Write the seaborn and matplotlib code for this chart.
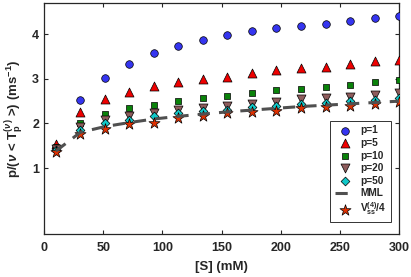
import pandas as pd
import matplotlib
matplotlib.use('Agg')
import matplotlib.pyplot as plt
import seaborn as sns

S = [10, 30.7, 51.4, 72.1, 92.9, 113.6, 134.3, 155, 175.7, 196.4, 217.1, 237.9, 258.6, 279.3, 300]

p1 = [1.46, 2.52, 3.02, 3.34, 3.57, 3.74, 3.87, 3.98, 4.07, 4.15, 4.19, 4.24, 4.30, 4.36, 4.41]
p5 = [1.53, 2.25, 2.54, 2.71, 2.83, 2.92, 2.99, 3.05, 3.14, 3.20, 3.24, 3.27, 3.33, 3.39, 3.43]
p10 = [1.47, 2.00, 2.21, 2.34, 2.42, 2.51, 2.57, 2.62, 2.68, 2.74, 2.78, 2.82, 2.87, 2.92, 2.97]
p20 = [1.43, 1.91, 2.07, 2.16, 2.24, 2.30, 2.35, 2.39, 2.44, 2.48, 2.54, 2.57, 2.60, 2.63, 2.69]
p50 = [1.41, 1.85, 2.00, 2.08, 2.16, 2.23, 2.27, 2.31, 2.36, 2.40, 2.44, 2.47, 2.50, 2.53, 2.57]
mml = [1.38, 1.80, 1.93, 2.02, 2.10, 2.16, 2.21, 2.26, 2.30, 2.34, 2.38, 2.41, 2.44, 2.47, 2.50]
vss = [1.36, 1.76, 1.87, 1.99, 2.01, 2.13, 2.17, 2.24, 2.25, 2.28, 2.34, 2.37, 2.39, 2.44, 2.48]

sns.set_style('ticks')
plt.rcParams['font.family'] = ['Liberation Sans', 'DejaVu Sans']
plt.rcParams['font.weight'] = 'bold'
plt.rcParams['mathtext.fontset'] = 'custom'
plt.rcParams['mathtext.rm'] = 'Liberation Sans:bold'
plt.rcParams['mathtext.it'] = 'Liberation Sans:italic:bold'
plt.rcParams['mathtext.bf'] = 'Liberation Sans:bold'

f, ax = plt.subplots()
f.set_size_inches(4.11, 2.77)
f.subplots_adjust(left=0.107, right=0.971, bottom=0.155, top=0.989)

df = pd.DataFrame({'S': S, 'p1': p1, 'p5': p5, 'p10': p10, 'p20': p20,
                   'p50': p50, 'mml': mml, 'vss': vss})

kw = dict(edgecolor='black', linewidth=0.5, ax=ax, zorder=3)
sns.scatterplot(data=df, x='S', y='p1', marker='o', color='#3535f0', s=30, label='p=1', **kw)
sns.scatterplot(data=df, x='S', y='p5', marker='^', color='#ee0000', s=42, label='p=5', **kw)
sns.scatterplot(data=df, x='S', y='p10', marker='s', color='#0a820a', s=20, label='p=10', **kw)
sns.scatterplot(data=df, x='S', y='p20', marker='v', color='#8e5c5c', s=42, label='p=20', **kw)
sns.scatterplot(data=df, x='S', y='p50', marker='D', color='#10c8c8', s=20, label='p=50', **kw)
sns.lineplot(data=df, x='S', y='mml', color='#505050', linewidth=2.2, dashes=False,
             linestyle=(0, (4, 3)), label='MML', ax=ax, zorder=4)
sns.scatterplot(data=df, x='S', y='vss', marker='*', color='#e03000', s=70,
                label=r'V$_{\rm ss}^{(4)}$/4', **kw)

ax.set_xlim(0, 300)
ax.set_ylim(-0.48, 4.7)
ax.set_xticks([0, 50, 100, 150, 200, 250, 300])
ax.set_yticks([1, 2, 3, 4])
ax.tick_params(direction='in', top=True, right=True, labelsize=9, length=3, width=0.8)
ax.tick_params(axis='x', pad=6)
for sp in ax.spines.values():
    sp.set_linewidth(0.9)
ax.set_xlabel('[S] (mM)', fontsize=9.5, fontweight='bold', labelpad=5)
ax.set_ylabel(r'p/($\nu$ < T$_{\rm p}^{(\nu)}$ >) (ms$^{-1}$)', fontsize=9.5, fontweight='bold')

leg = ax.legend(loc='lower right', fontsize=7.3, frameon=True, fancybox=False,
                edgecolor='black', handlelength=2.0, labelspacing=0.25,
                handletextpad=0.5, borderpad=0.45, borderaxespad=0,
                bbox_to_anchor=(0.977, 0.052))
leg.get_frame().set_linewidth(0.7)

f.savefig('out.png', dpi=100)
